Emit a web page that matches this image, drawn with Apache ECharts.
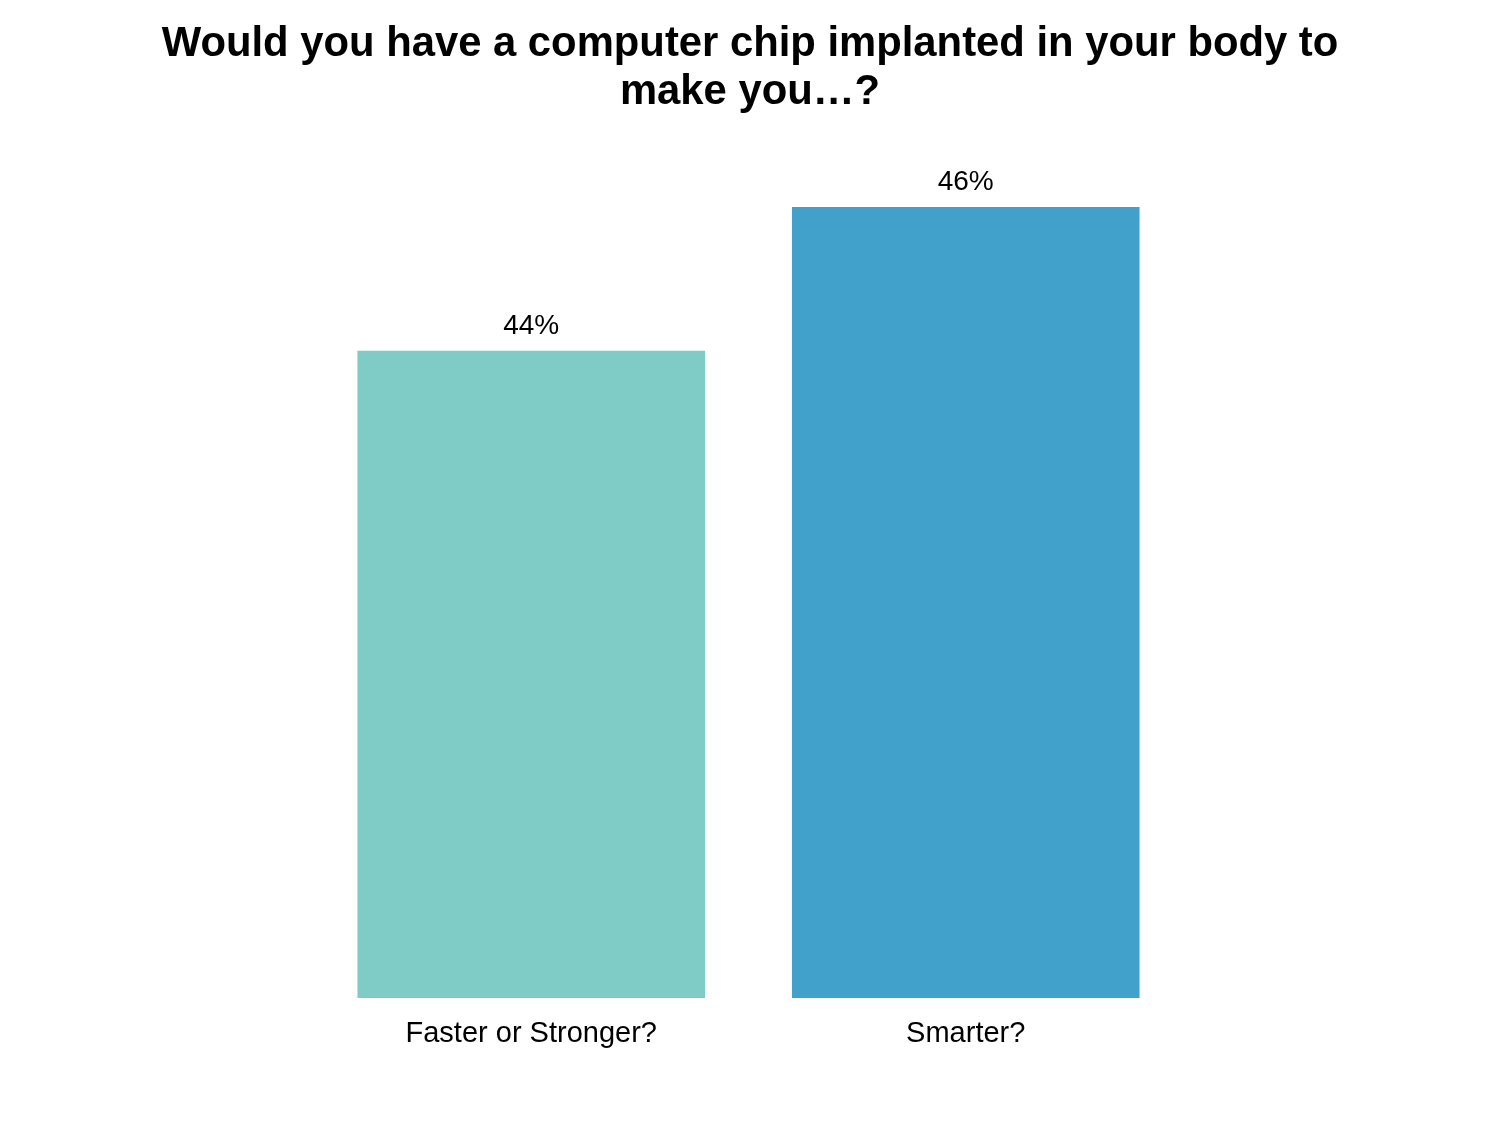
<!DOCTYPE html>
<html>
<head>
<meta charset="utf-8">
<script src="https://cdn.jsdelivr.net/npm/echarts@6/dist/echarts.min.js"></script>
<style>html,body{margin:0;padding:0;background:#fff;}#c{width:1500px;height:1125px;}</style>
</head>
<body>
<div id="c"></div>
<script>
var titleText = 'Would you have a computer chip implanted in your body to\nmake you…?';
var categories = ['Faster or Stronger?', 'Smarter?'];
var values = [44, 46];
var barColors = ['#7ECCC5', '#42A1CA'];

var chart = echarts.init(document.getElementById('c'), null, {renderer: 'canvas'});
chart.setOption({
  animation: false,
  backgroundColor: '#ffffff',
  title: {
    text: titleText,
    left: 'center',
    top: 15,
    textStyle: {fontFamily: 'Liberation Sans, Arial', fontWeight: 'bold', fontSize: 41.8, lineHeight: 48, color: '#000'}
  },
  grid: {left: 314, right: 317, top: 207, bottom: 127},
  xAxis: {
    type: 'category',
    data: categories,
    axisLine: {show: false},
    axisTick: {show: false},
    axisLabel: {fontFamily: 'Liberation Sans, Arial', fontSize: 29, color: '#000', margin: 21}
  },
  yAxis: {
    type: 'value',
    min: 35,
    max: 46,
    show: false,
    splitLine: {show: false}
  },
  series: [{
    type: 'bar',
    data: values.map(function (v, i) { return {value: v, itemStyle: {color: barColors[i]}}; }),
    barCategoryGap: '20%',
    label: {
      show: true,
      position: 'top',
      distance: 11,
      formatter: '{c}%',
      fontFamily: 'Liberation Sans, Arial',
      fontSize: 28,
      color: '#000'
    }
  }]
});
</script>
</body>
</html>
